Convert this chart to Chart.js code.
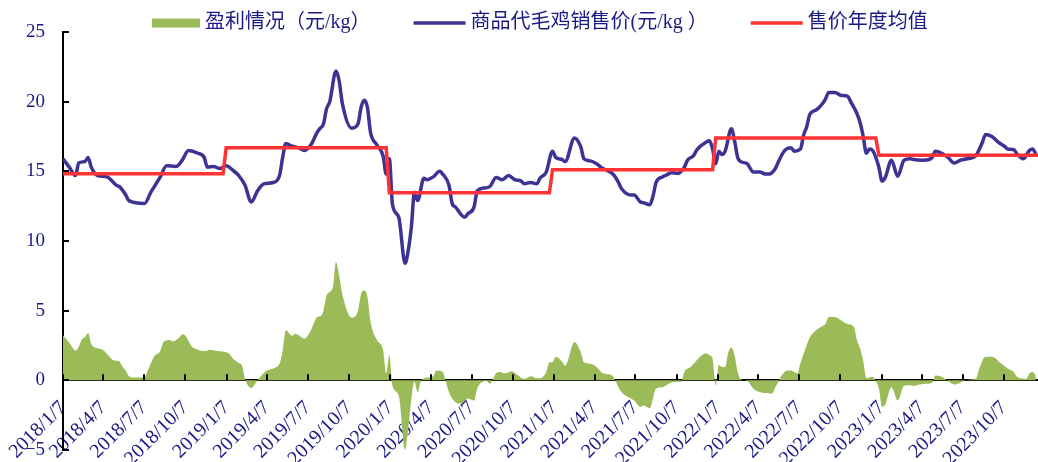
<!DOCTYPE html>
<html>
<head>
<meta charset="utf-8">
<script src="https://cdn.jsdelivr.net/npm/chart.js@4.4.1/dist/chart.umd.min.js"></script>
<style>
  html, body { margin: 0; padding: 0; background: #fff; }
  #wrap { width: 1038px; height: 462px; }
</style>
</head>
<body>
<div id="wrap"><canvas id="chart"></canvas></div>
<script>
// x values are weeks counted from 2018/1/7
const START = Date.UTC(2018, 0, 7);
const X_MAX = 310.7;

const tickLabels = [
  '2018/1/7', '2018/4/7', '2018/7/7', '2018/10/7',
  '2019/1/7', '2019/4/7', '2019/7/7', '2019/10/7',
  '2020/1/7', '2020/4/7', '2020/7/7', '2020/10/7',
  '2021/1/7', '2021/4/7', '2021/7/7', '2021/10/7',
  '2022/1/7', '2022/4/7', '2022/7/7', '2022/10/7',
  '2023/1/7', '2023/4/7', '2023/7/7', '2023/10/7'
];

const seriesNames = ['盈利情况（元/kg）', '商品代毛鸡销售价(元/kg ）', '售价年度均值'];

// [week, 元/kg]
const priceSeries = [
  [0,15.9],[2,15.3],[4,14.7],[5,15.6],[7,15.7],[8,16.0],[9,15.3],[11,14.7],[14,14.6],[17,14.0],
  [18,13.9],[20,13.3],[21,12.9],[26,12.7],[28,13.5],[31,14.6],[33,15.4],[36,15.35],[38,15.8],[40,16.5],
  [43,16.3],[45,16.0],[46,15.3],[48,15.35],[50,15.2],[52,15.4],[54,15.1],[56,14.7],[58,14.0],[60,12.8],
  [62,13.6],[64,14.1],[67,14.2],[69,14.7],[70,16.0],[71,17.0],[73,16.8],[75,16.7],[77,16.5],[79,16.9],
  [81,17.8],[82,18.1],[83,18.4],[84,19.5],[85,20.0],[87,22.2],[88,21.5],[89,19.9],[92,18.1],[94,18.4],
  [95,19.6],[96,20.1],[97,19.6],[98,17.8],[100,16.9],[102,16.1],[103,14.8],[104,15.9],[105,12.6],[107,11.7],
  [109,8.4],[110,9.3],[111,11.0],[112,13.5],[113,12.9],[115,14.5],[116,14.4],[118,14.6],[120,15.0],[121,14.8],
  [123,14.0],[124,12.7],[125,12.45],[128,11.7],[129,11.95],[131,12.45],[132,13.6],[134,13.8],[136,13.9],[138,14.55],
  [140,14.4],[142,14.7],[144,14.4],[146,14.3],[147,14.1],[149,14.2],[151,14.1],[152,14.5],[154,14.95],[156,16.45],
  [157,16.0],[159,15.85],[160,15.7],[163,17.4],[165,16.75],[166,15.9],[168,15.75],[170,15.55],[172,15.2],[173,15.1],
  [175,14.85],[176,14.6],[177,14.2],[178,13.75],[181,13.3],[182,13.3],[184,12.8],[185,12.75],[187,12.6],[188,13.2],
  [189,14.2],[191,14.6],[192,14.7],[194,14.9],[196,14.85],[198,15.3],[199,15.8],[201,16.15],[202,16.55],[205,17.1],
  [206,17.2],[207,16.6],[208,15.55],[209,16.45],[210,16.2],[211,16.45],[213,18.05],[214,17.2],[215,16.0],[216,15.7],
  [218,15.55],[220,14.95],[222,14.95],[224,14.8],[225,14.8],[227,15.2],[228,15.7],[230,16.5],[232,16.7],[233,16.45],
  [235,16.6],[236,17.6],[237,18.2],[238,19.1],[240,19.4],[242,19.85],[243,20.2],[244,20.65],[246,20.65],[248,20.45],
  [250,20.4],[251,20.0],[253,19.15],[254,18.5],[255,17.5],[256,16.3],[257,16.6],[258,16.5],[260,15.3],[261,14.3],
  [262,14.55],[264,15.8],[266,14.65],[268,15.8],[270,15.9],[271,15.85],[274,15.8],[276,15.85],[277,16.0],[278,16.45],
  [280,16.3],[282,16.0],[284,15.6],[286,15.8],[288,15.9],[290,16.0],[291,16.15],[293,17.1],[294,17.65],[296,17.5],
  [298,17.1],[300,16.8],[301,16.6],[303,16.55],[304,16.25],[306,15.9],[308,16.5],[309,16.6],[310,16.25]
];

// [week, 元/kg]
const profitSeries = [
  [0,3.23],[2,2.7],[4,2.15],[5,2.4],[6,2.95],[7,3.1],[8,3.4],[9,2.6],[11,2.3],[13,2.15],
  [14,1.9],[16,1.45],[18,1.35],[19,0.95],[20,0.7],[21,0.3],[23,0.2],[26,0.2],[27,0.7],[29,1.7],
  [31,2.1],[32,2.75],[34,2.9],[35,2.8],[37,3.05],[38,3.3],[39,3.2],[41,2.45],[43,2.2],[45,2.1],
  [47,2.2],[49,2.1],[51,2.05],[53,1.9],[54,1.6],[56,1.25],[57,1.1],[58,0.1],[60,-0.55],[62,0],
  [63,0.3],[65,0.7],[67,0.85],[69,1.2],[70,2.15],[71,3.6],[73,3.2],[74,3.35],[77,3.0],[79,3.6],
  [81,4.55],[82,4.6],[83,5.0],[84,6.1],[86,6.7],[87,8.5],[88,7.5],[89,6.2],[92,4.5],[94,5.0],
  [95,6.2],[96,6.45],[97,6.0],[98,4.2],[100,2.9],[102,2.2],[103,0.5],[104,1.8],[105,-0.4],[107,-1.1],
  [109,-5.0],[110,-3.5],[112,-0.1],[113,-0.85],[114,-0.1],[115,0.15],[118,0.3],[119,0.7],[121,0.6],[122,-0.1],
  [123,-0.85],[125,-1.55],[127,-1.67],[129,-1.3],[131,-1.45],[132,-0.6],[135,-0.05],[136,-0.25],[138,0.5],[139,0.6],
  [141,0.5],[143,0.65],[145,0.35],[147,0.1],[149,0.3],[151,0.15],[152,0.15],[154,0.6],[155,1.3],[156,1.3],
  [157,1.7],[159,1.35],[160,1.05],[163,2.75],[165,2.0],[166,1.3],[168,1.2],[170,0.95],[172,0.5],[173,0.45],
  [175,0.35],[176,0],[177,-0.5],[178,-0.85],[181,-1.3],[182,-1.45],[184,-1.9],[185,-1.8],[187,-2.0],[189,-0.6],
  [191,-0.5],[193,-0.25],[195,-0.1],[197,-0.1],[198,0.6],[200,0.95],[201,1.2],[203,1.7],[205,1.95],[206,1.8],
  [207,1.55],[208,-0.35],[209,1.1],[210,0.95],[211,0.95],[212,2.0],[213,2.35],[214,1.8],[215,0.6],[216,0.07],
  [218,-0.05],[220,-0.6],[223,-0.9],[226,-0.95],[227,-0.5],[228,-0.1],[229,0.35],[231,0.7],[232,0.7],[234,0.5],
  [235,1.25],[236,1.9],[238,3.1],[240,3.6],[242,3.9],[243,4.05],[244,4.55],[246,4.55],[248,4.3],[250,4.05],
  [252,3.85],[253,2.9],[254,2.3],[255,1.4],[256,0.15],[258,0.25],[259,-0.05],[260,-0.6],[261,-1.9],[262,-1.75],
  [264,-0.5],[266,-1.45],[268,-0.4],[270,-0.35],[271,-0.4],[273,-0.3],[275,-0.25],[277,-0.17],[278,0.35],[280,0.25],
  [282,-0.05],[284,-0.3],[286,-0.17],[287,-0.05],[290,0.07],[291,0.15],[292,0.85],[294,1.7],[296,1.7],[299,1.2],
  [301,0.85],[303,0.6],[304,0.25],[307,0.1],[308,0.5],[309,0.6],[310,0.35]
];

// yearly average of the price, 2018 .. 2023
const yearStartWeeks = [0, 52, 104, 156, 208, 260];
const yearAverages = [14.83, 16.7, 13.47, 15.12, 17.4, 16.15];

const GREEN = '#9BBB59';
const BLUE = '#3C3393';
const RED = '#FF3333';
const NAVY = '#1a1a85';
const SERIF = '"Liberation Serif", "DejaVu Serif", serif';

function weekOf(label) {
  const [y, m, d] = label.split('/').map(Number);
  return (Date.UTC(y, m - 1, d) - START) / (7 * 86400000);
}

const toPoints = (arr) => arr.map(([x, y]) => ({x, y}));

const avgPoints = [];
yearStartWeeks.forEach((s, i) => {
  const end = i < yearStartWeeks.length - 1 ? yearStartWeeks[i + 1] - 1 : X_MAX;
  avgPoints.push({x: s, y: yearAverages[i]}, {x: end, y: yearAverages[i]});
});

// ticks that point into the plot, like the original
const innerTicks = {
  id: 'innerTicks',
  afterDraw(chart) {
    const {ctx, chartArea, scales: {x, y}} = chart;
    const y0 = y.getPixelForValue(0);
    ctx.save();
    ctx.strokeStyle = '#000';
    ctx.lineWidth = 2;
    ctx.beginPath();
    x.ticks.forEach(t => {
      const px = Math.round(x.getPixelForValue(t.value));
      ctx.moveTo(px, y0);
      ctx.lineTo(px, y0 - 6);
    });
    y.ticks.forEach(t => {
      const py = Math.round(y.getPixelForValue(t.value));
      ctx.moveTo(chartArea.left, py);
      ctx.lineTo(chartArea.left + 6, py);
    });
    ctx.stroke();
    ctx.restore();
  }
};

// legend row across the top
const topLegend = {
  id: 'topLegend',
  afterDraw(chart) {
    const ctx = chart.ctx;
    const cy = 23;
    let x = 152;
    ctx.save();
    ctx.font = '20px ' + SERIF + ', "Noto Sans CJK SC"';
    ctx.textBaseline = 'middle';
    chart.data.datasets.forEach(ds => {
      if (ds.fill) {
        ctx.fillStyle = ds.backgroundColor;
        ctx.fillRect(x, cy - 4.5, 48, 9);
        x += 53;
      } else {
        ctx.strokeStyle = ds.borderColor;
        ctx.lineWidth = 3.5;
        ctx.beginPath();
        ctx.moveTo(x, cy);
        ctx.lineTo(x + 52, cy);
        ctx.stroke();
        x += 57;
      }
      ctx.fillStyle = NAVY;
      ctx.fillText(ds.label, x, cy);
      x += ctx.measureText(ds.label).width + 43;
    });
    ctx.restore();
  }
};

new Chart(document.getElementById('chart'), {
  type: 'line',
  data: {
    datasets: [
      {
        label: seriesNames[0],
        data: toPoints(profitSeries),
        fill: 'origin',
        backgroundColor: GREEN,
        borderWidth: 0,
        pointRadius: 0,
        cubicInterpolationMode: 'monotone',
        order: 3
      },
      {
        label: seriesNames[1],
        data: toPoints(priceSeries),
        fill: false,
        borderColor: BLUE,
        borderWidth: 3.5,
        pointRadius: 0,
        cubicInterpolationMode: 'monotone',
        order: 2
      },
      {
        label: seriesNames[2],
        data: avgPoints,
        fill: false,
        borderColor: RED,
        borderWidth: 3.5,
        pointRadius: 0,
        order: 1
      }
    ]
  },
  options: {
    responsive: true,
    maintainAspectRatio: false,
    animation: false,
    layout: { padding: { top: 32, right: 0, bottom: 12, left: 0 } },
    plugins: {
      legend: { display: false },
      tooltip: { enabled: false }
    },
    scales: {
      x: {
        type: 'linear',
        position: { y: 0 },
        min: 0,
        max: X_MAX,
        afterBuildTicks: (scale) => {
          scale.ticks = tickLabels.map(l => ({value: weekOf(l)}));
        },
        afterFit: (scale) => {
          scale.height = 0;
          // rotated labels may hang left of the axis without shifting the plot
          scale.paddingLeft = 0;
          scale.paddingRight = 0;
        },
        grid: { display: false, drawTicks: false },
        border: { display: true, color: '#000', width: 2 },
        ticks: {
          autoSkip: false,
          maxRotation: 45,
          minRotation: 45,
          padding: 16,
          color: NAVY,
          font: { family: SERIF, size: 20 },
          callback: (value, index) => tickLabels[index]
        }
      },
      y: {
        position: 'left',
        min: -5,
        max: 25,
        afterFit: (scale) => {
          scale.width = 63;
          // keep the label padding from eating into the plot height
          scale.paddingTop = 10;
          scale.paddingBottom = 10;
        },
        grid: { display: false, drawTicks: false },
        border: { display: true, color: '#000', width: 2 },
        ticks: {
          stepSize: 5,
          padding: 18,
          color: NAVY,
          font: { family: SERIF, size: 19 },
          callback: (v) => String(v).replace('-', '\u2212')
        }
      }
    }
  },
  plugins: [innerTicks, topLegend]
});
</script>
</body>
</html>
